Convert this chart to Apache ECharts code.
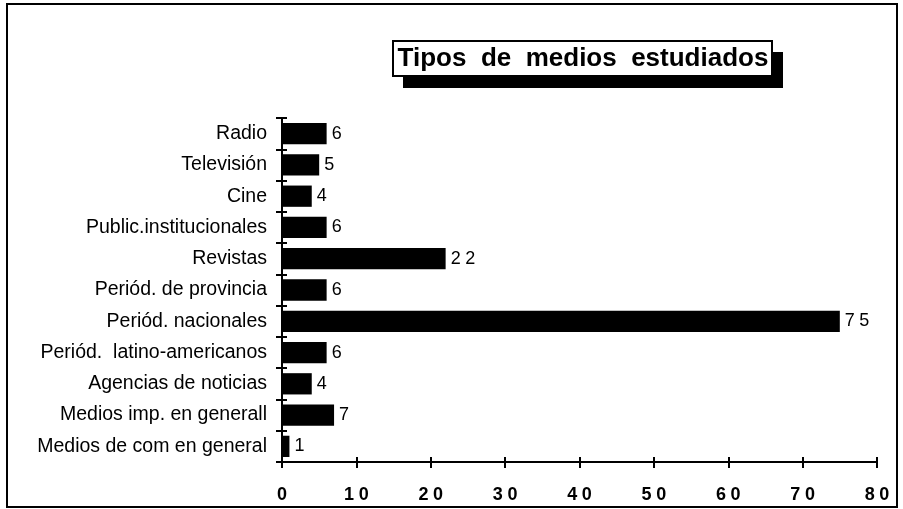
<!DOCTYPE html>
<html>
<head>
<meta charset="utf-8">
<script src="https://cdn.jsdelivr.net/npm/echarts@6/dist/echarts.min.js"></script>
<style>
html,body{margin:0;padding:0;background:#fff;}
#chart{width:903px;height:509px;}
</style>
</head>
<body>
<div id="chart"></div>
<script>
// categories top to bottom
var medios = ['Radio', 'Televisión', 'Cine', 'Public.institucionales', 'Revistas',
  'Periód. de provincia', 'Periód. nacionales', 'Periód.  latino-americanos',
  'Agencias de noticias', 'Medios imp. en generall', 'Medios de com en general'];
var cantidad = [6, 5, 4, 6, 22, 6, 75, 6, 4, 7, 1];
var xTicks = [0, 10, 20, 30, 40, 50, 60, 70, 80];
var titulo = 'Tipos  de  medios  estudiados';

function spaced(v) {
  return String(v).split('').join('\u2005');
}

var chart = echarts.init(document.getElementById('chart'));
var font = 'Liberation Sans, Arial, sans-serif';

var option = {
  animation: false,
  backgroundColor: '#fff',
  grid: {left: 282, right: 26, top: 118, bottom: 47},
  xAxis: [{
    type: 'value',
    min: xTicks[0],
    max: xTicks[xTicks.length - 1],
    interval: 10,
    splitLine: {show: false},
    axisLine: {show: true, lineStyle: {color: '#000', width: 2}},
    axisTick: {show: true, length: 6, lineStyle: {color: '#000', width: 2}},
    axisLabel: {color: '#000', fontSize: 18, fontWeight: 'bold', fontFamily: font, margin: 24,
      formatter: function (v) { return spaced(v); }}
  }, {
    type: 'value',
    position: 'bottom',
    min: xTicks[0],
    max: xTicks[xTicks.length - 1],
    interval: 10,
    splitLine: {show: false},
    axisLine: {show: false},
    axisTick: {show: true, inside: true, length: 5, lineStyle: {color: '#000', width: 2}},
    axisLabel: {show: false}
  }],
  yAxis: [{
    type: 'category',
    data: medios,
    inverse: true,
    axisLine: {show: true, lineStyle: {color: '#000', width: 2}},
    axisTick: {show: true, length: 6, lineStyle: {color: '#000', width: 2}},
    axisLabel: {color: '#000', fontSize: 19.5, fontFamily: font, margin: 15}
  }, {
    type: 'category',
    data: medios,
    inverse: true,
    position: 'left',
    axisLine: {show: false},
    axisTick: {show: true, inside: true, length: 5, lineStyle: {color: '#000', width: 2}},
    axisLabel: {show: false}
  }],
  series: [{
    type: 'bar',
    data: cantidad,
    barWidth: '68%',
    itemStyle: {color: '#000'},
    label: {
      show: true,
      position: 'right',
      distance: 5,
      color: '#000',
      fontSize: 18,
      fontFamily: font,
      formatter: function (p) { return spaced(p.value); }
    }
  }],
  graphic: [
    {type: 'rect', shape: {x: 7, y: 4, width: 890, height: 503},
      style: {fill: 'none', stroke: '#000', lineWidth: 2}, z: 0},
    {type: 'rect', shape: {x: 403, y: 52, width: 380, height: 36},
      style: {fill: '#000'}, z: 10},
    {type: 'rect', shape: {x: 393, y: 41, width: 379, height: 35},
      style: {fill: '#fff', stroke: '#000', lineWidth: 2}, z: 11},
    {type: 'text', x: 583, y: 59, z: 12,
      style: {text: titulo, fill: '#000', font: 'bold 26px ' + font,
        align: 'center', verticalAlign: 'middle'}}
  ]
};
chart.setOption(option);
</script>
</body>
</html>
